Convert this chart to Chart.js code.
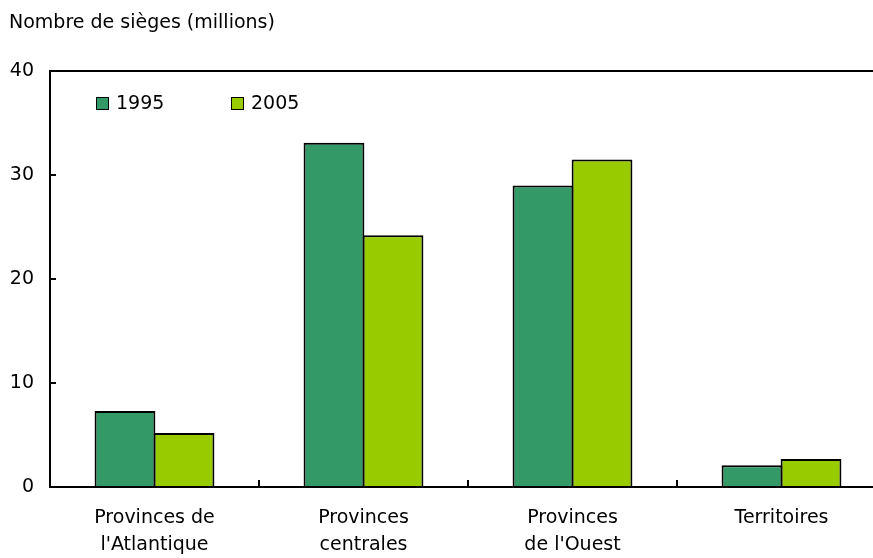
<!DOCTYPE html>
<html>
<head>
<meta charset="utf-8">
<script src="https://cdn.jsdelivr.net/npm/chart.js@4/dist/chart.umd.min.js"></script>
<style>
  html, body { margin: 0; padding: 0; background: #fff; overflow: hidden; }
  #wrap { position: relative; width: 886px; height: 558px; font-family: "DejaVu Sans", sans-serif; color: #000; }
  #title { position: absolute; left: 9px; top: 12px; font-size: 19px; line-height: 19px; white-space: nowrap; }
  #legend { position: absolute; left: 96px; top: 93px; font-size: 19px; line-height: 19px; white-space: nowrap; }
  .item { position: absolute; top: 0; }
  .box { position: absolute; top: 4px; width: 11px; height: 11px; border: 1px solid #000; }
  .lbl { position: absolute; left: 20px; top: 0; }
</style>
</head>
<body>
<div id="wrap">
  <div id="title">Nombre de sièges (millions)</div>
  <div id="legend"></div>
  <canvas id="chart"></canvas>
</div>
<script>
// Data
const categories = [['Provinces de', "l'Atlantique"], ['Provinces', 'centrales'], ['Provinces', "de l'Ouest"], 'Territoires'];
const seriesNames = ['1995', '2005'];
const seats1995 = [7.3, 33.1, 29.0, 2.1];
const seats2005 = [5.2, 24.2, 31.5, 2.7];
const yTicks = [0, 10, 20, 30, 40];

const colors = ['#339966', '#99cc00'];

// Legend (HTML)
const legend = document.getElementById('legend');
seriesNames.forEach((name, i) => {
  const item = document.createElement('div');
  item.className = 'item';
  item.style.left = (i * 135) + 'px';
  item.innerHTML = `<span class="box" style="background:${colors[i]}"></span><span class="lbl">${name}</span>`;
  legend.appendChild(item);
});

// Inward tick marks on both axes
const innerTicks = {
  id: 'innerTicks',
  afterDraw(chart) {
    const ctx = chart.ctx;
    const x = chart.scales.x;
    const y = chart.scales.y;
    ctx.save();
    ctx.strokeStyle = '#000';
    ctx.lineWidth = 2;
    ctx.beginPath();
    yTicks.forEach(v => {
      if (v === yTicks[0] || v === yTicks[yTicks.length - 1]) return;
      const py = Math.round(y.getPixelForValue(v));
      ctx.moveTo(x.left, py);
      ctx.lineTo(x.left + 6, py);
    });
    for (let i = 0; i < categories.length - 1; i++) {
      const px = Math.round((x.getPixelForTick(i) + x.getPixelForTick(i + 1)) / 2);
      ctx.moveTo(px, y.bottom);
      ctx.lineTo(px, y.bottom - 7);
    }
    ctx.stroke();
    ctx.restore();
  }
};

new Chart(document.getElementById('chart'), {
  type: 'bar',
  data: {
    labels: categories,
    datasets: [
      { label: seriesNames[0], data: seats1995, backgroundColor: colors[0], borderColor: '#000', borderWidth: 2 },
      { label: seriesNames[1], data: seats2005, backgroundColor: colors[1], borderColor: '#000', borderWidth: 2 }
    ]
  },
  options: {
    responsive: true,
    maintainAspectRatio: false,
    animation: false,
    layout: { padding: { top: 71, right: 0, bottom: 0, left: 0 } },
    datasets: { bar: { categoryPercentage: 0.565, barPercentage: 1.03 } },
    plugins: { legend: { display: false }, tooltip: { enabled: false } },
    scales: {
      x: {
        afterFit: s => { s.height = 71; },
        grid: { display: false, drawTicks: false },
        border: { display: true, color: '#000', width: 2 },
        ticks: {
          color: '#000', padding: 18, maxRotation: 0, autoSkip: false,
          font: { family: 'DejaVu Sans', size: 19, lineHeight: 1.42 }
        }
      },
      y: {
        min: 0, max: 40,
        afterFit: s => { s.width = 50; },
        afterBuildTicks: s => { s.ticks = yTicks.map(v => ({ value: v })); },
        grid: {
          drawTicks: false,
          color: c => (c.tick && c.tick.value === 40 ? '#000' : 'rgba(0,0,0,0)'),
          lineWidth: 2
        },
        border: { display: true, color: '#000', width: 2 },
        ticks: {
          color: '#000', padding: 16,
          font: { family: 'DejaVu Sans', size: 19 }
        }
      }
    }
  },
  plugins: [innerTicks]
});
</script>
</body>
</html>
